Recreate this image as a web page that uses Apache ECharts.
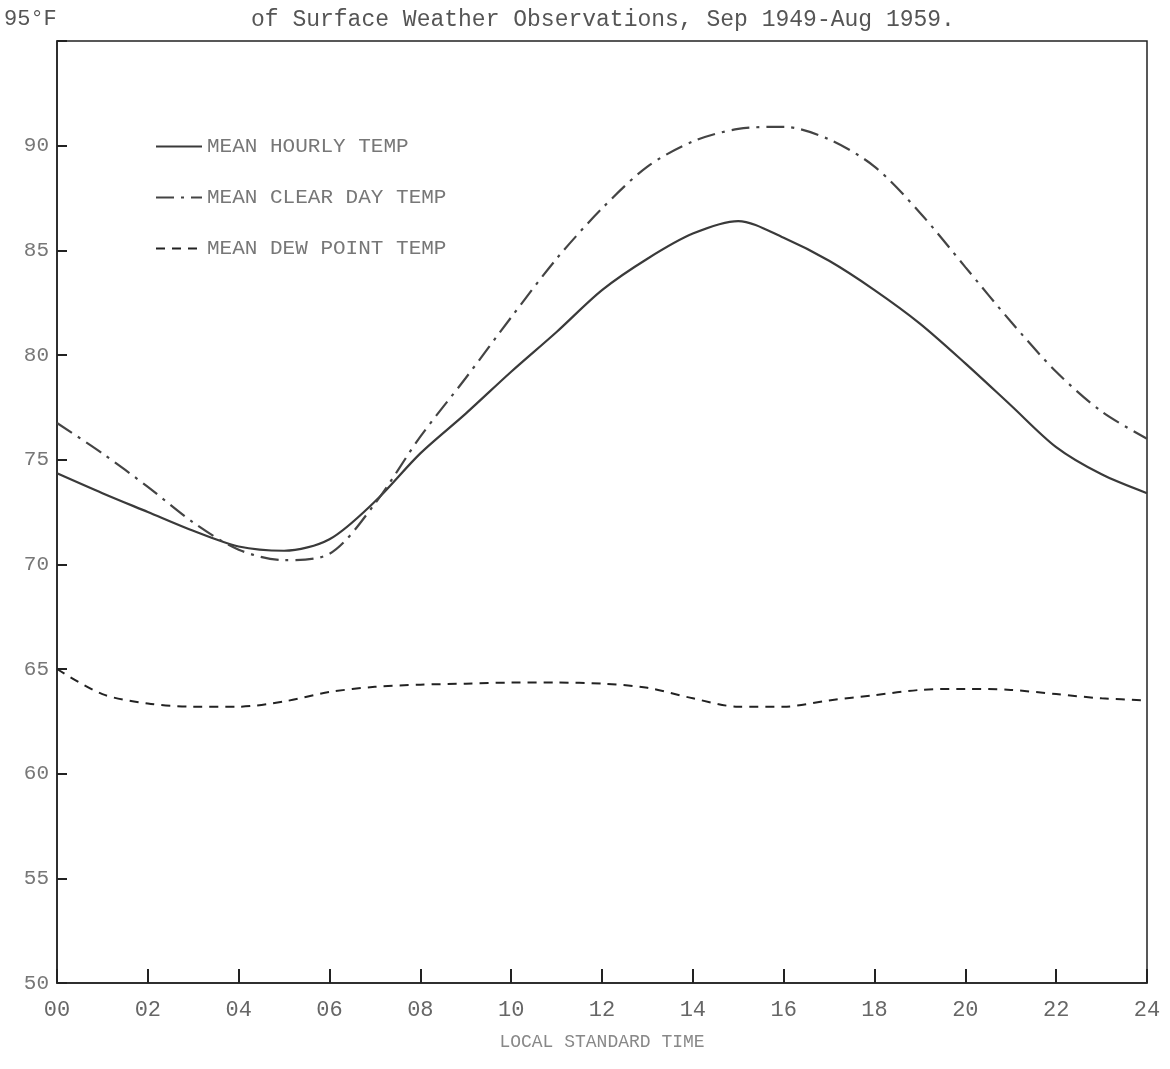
<!DOCTYPE html>
<html>
<head>
<meta charset="utf-8">
<script src="https://cdn.jsdelivr.net/npm/echarts@6/dist/echarts.min.js"></script>
<style>
html,body{margin:0;padding:0;background:#fff;}
#chart{width:1170px;height:1069px;}
</style>
</head>
<body>
<div id="chart"></div>
<script>
// Local standard time (hours)
var hours = [0,1,2,3,4,5,6,7,8,9,10,11,12,13,14,15,16,17,18,19,20,21,22,23,24];
// Mean hourly temperature (°F)
var meanHourly = [74.35,73.4,72.5,71.6,70.85,70.65,71.2,73.0,75.3,77.2,79.2,81.1,83.1,84.6,85.8,86.4,85.6,84.5,83.1,81.5,79.6,77.6,75.6,74.3,73.4];
// Mean clear day temperature (°F)
var meanClearDay = [76.75,75.3,73.7,72.0,70.7,70.2,70.5,72.9,76.1,78.9,81.8,84.6,87.0,89.0,90.2,90.8,90.9,90.3,89.0,86.8,84.2,81.6,79.2,77.3,76.0];
// Mean dew point temperature (°F)
var meanDewPoint = [65.0,63.8,63.35,63.2,63.2,63.45,63.9,64.15,64.25,64.3,64.35,64.35,64.3,64.1,63.6,63.2,63.2,63.5,63.75,64.0,64.05,64.0,63.8,63.6,63.5];
var seriesNames = ['MEAN HOURLY TEMP','MEAN CLEAR DAY TEMP','MEAN DEW POINT TEMP'];
var xTickLabels = ['00','02','04','06','08','10','12','14','16','18','20','22','24'];
var yTopLabel = '95\u00B0F';
var titleText = 'of Surface Weather Observations, Sep 1949-Aug 1959.';
var xAxisTitle = 'LOCAL STANDARD TIME';

function pairs(vals){ return hours.map(function(h,i){ return [h, vals[i]]; }); }

var mono = '"Liberation Mono", "DejaVu Sans Mono", monospace';
var chart = echarts.init(document.getElementById('chart'));
chart.setOption({
  backgroundColor: '#ffffff',
  animation: false,
  title: {
    text: titleText,
    left: 246, top: 3,
    textStyle: {fontFamily: mono, fontSize: 23, fontWeight: 'normal', color: '#555'}
  },
  graphic: [{
    type: 'text', left: 4, top: 8,
    style: {text: yTopLabel, font: '22px ' + mono, fill: '#555'}
  }],
  legend: {
    orient: 'vertical', left: 150, top: 131,
    itemWidth: 46, itemHeight: 10, itemGap: 30,
    itemStyle: {opacity: 0},
    textStyle: {fontFamily: mono, fontSize: 21, color: '#777'},
    data: seriesNames
  },
  grid: {left: 57, right: 23, top: 41, bottom: 86, show: true, borderColor: '#222', borderWidth: 1.5, containLabel: false},
  xAxis: {
    type: 'value', min: 0, max: 24, interval: 2,
    name: xAxisTitle, nameLocation: 'middle', nameGap: 50,
    nameTextStyle: {fontFamily: mono, fontSize: 18, color: '#888'},
    axisLine: {show: true, lineStyle: {color: '#222', width: 1.5}},
    axisTick: {show: true, inside: true, length: 14, lineStyle: {color: '#222', width: 2}},
    axisLabel: {margin: 16, fontFamily: mono, fontSize: 22, color: '#666',
      formatter: function(v){ return xTickLabels[Math.round(v/2)]; }},
    splitLine: {show: false}
  },
  yAxis: {
    type: 'value', min: 50, max: 95, interval: 5,
    axisLine: {show: true, lineStyle: {color: '#222', width: 1.5}},
    axisTick: {show: true, inside: true, length: 10, lineStyle: {color: '#222', width: 2}},
    axisLabel: {margin: 8, fontFamily: mono, fontSize: 21, color: '#777',
      formatter: function(v){ return v === 95 ? '' : String(v); }},
    splitLine: {show: false}
  },
  series: [
    {name: seriesNames[0], type: 'line', data: pairs(meanHourly), smooth: 0.3, symbol: 'none',
      lineStyle: {color: '#3a3a3a', width: 2.2, type: 'solid'}, itemStyle: {color: '#3a3a3a'}},
    {name: seriesNames[1], type: 'line', data: pairs(meanClearDay), smooth: 0.3, symbol: 'none',
      lineStyle: {color: '#444', width: 2.2, type: [18, 7, 3, 7]}, itemStyle: {color: '#444'}},
    {name: seriesNames[2], type: 'line', data: pairs(meanDewPoint), smooth: 0.3, symbol: 'none',
      lineStyle: {color: '#222', width: 2, type: [9, 7]}, itemStyle: {color: '#222'}}
  ]
});
</script>
</body>
</html>
